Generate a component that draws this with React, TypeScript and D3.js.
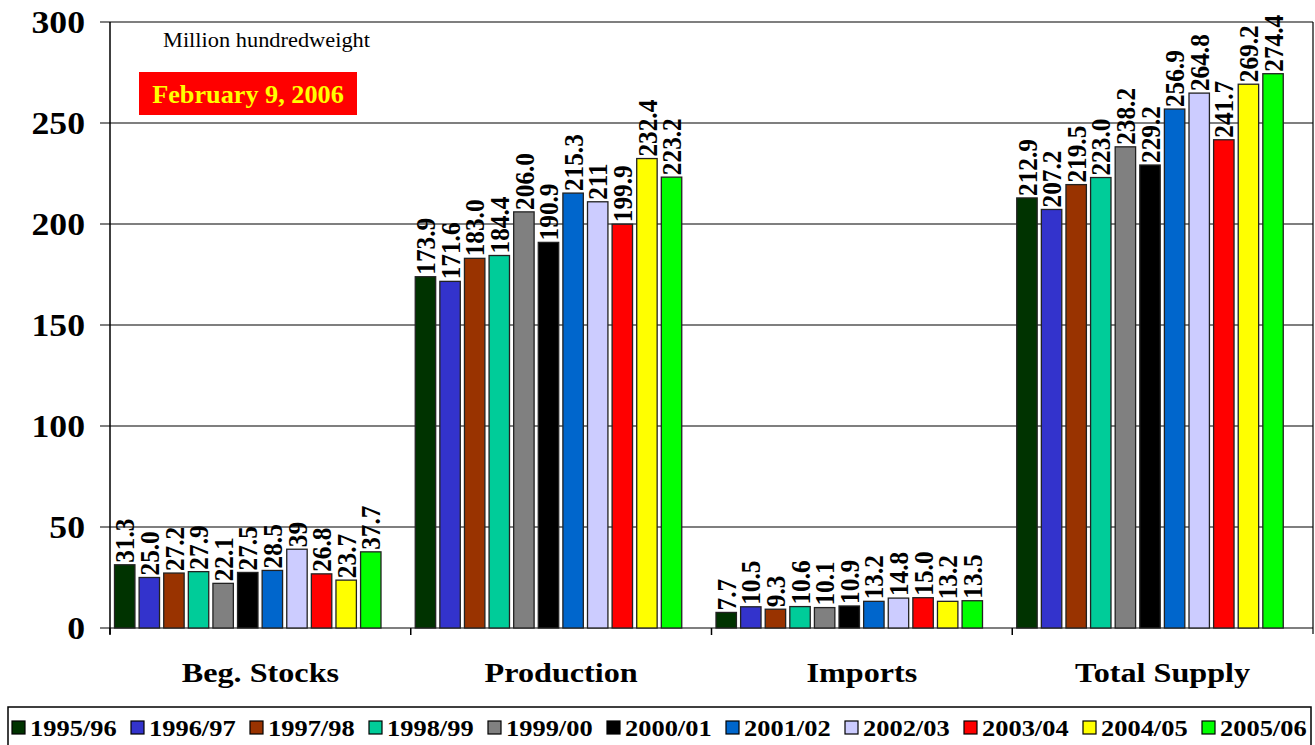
import React from 'react';
import * as d3 from 'd3';

// categories and series
const categories = ['Beg. Stocks', 'Production', 'Imports', 'Total Supply'];
const seasons = ['1995/96', '1996/97', '1997/98', '1998/99', '1999/00', '2000/01', '2001/02', '2002/03', '2003/04', '2004/05', '2005/06'];
const seasonColors = ['#003300', '#3333CC', '#993300', '#00CC99', '#808080', '#000000', '#0066CC', '#CCCCFF', '#FF0000', '#FFFF00', '#00FF00'];

// values kept as the printed labels (some have no decimal in the original)
const begStocks = ['31.3', '25.0', '27.2', '27.9', '22.1', '27.5', '28.5', '39', '26.8', '23.7', '37.7'];
const production = ['173.9', '171.6', '183.0', '184.4', '206.0', '190.9', '215.3', '211', '199.9', '232.4', '223.2'];
const imports = ['7.7', '10.5', '9.3', '10.6', '10.1', '10.9', '13.2', '14.8', '15.0', '13.2', '13.5'];
const totalSupply = ['212.9', '207.2', '219.5', '223.0', '238.2', '229.2', '256.9', '264.8', '241.7', '269.2', '274.4'];
const yTicks = [0, 50, 100, 150, 200, 250, 300];

const seriesByCategory = [begStocks, production, imports, totalSupply];

const W = 1315;
const H = 745;
const margin = { top: 22, right: 2, bottom: 117, left: 110 };
const font = '"Liberation Serif", "Times New Roman", serif';

// the original is a little wider than tall, text looks stretched sideways
const Txt: React.FC<{ x: number; y: number; sx?: number; sy?: number; rotate?: number; anchor?: string; size: number; bold?: boolean; fill?: string; children: React.ReactNode }> =
  ({ x, y, sx = 1.15, sy = 1, rotate = 0, anchor = 'start', size, bold = true, fill = '#000', children }) => (
    <text
      transform={`translate(${x},${y})${rotate ? ` rotate(${rotate})` : ''} scale(${sx},${sy})`}
      dy="0.35em"
      textAnchor={anchor}
      fontSize={size}
      fontWeight={bold ? 'bold' : 'normal'}
      fill={fill}
    >{children}</text>
  );

export default function App() {
  const innerW = W - margin.left - margin.right;
  const innerH = H - margin.top - margin.bottom;

  const x0 = d3.scaleBand<string>().domain(categories).range([0, innerW]).padding(0);
  const step = x0.step();
  // Excel-style: bars start just after the group tick, leave a gap on the right
  const x1 = d3.scaleBand<string>().domain(seasons).range([4.5, 271]).paddingInner(0.17).paddingOuter(0);
  const y = d3.scaleLinear().domain([0, 300]).range([innerH, 0]);
  const color = d3.scaleOrdinal<string, string>().domain(seasons).range(seasonColors);

  const legendX = d3.scaleBand<string>().domain(seasons).range([12, 12 + 11 * 119]);

  return (
    <svg width={W} height={H} style={{ position: 'absolute', left: 0, top: 0, background: '#fff' }} fontFamily={font}>
      <g transform={`translate(${margin.left},${margin.top})`}>
        {/* grid */}
        {yTicks.map(t => (
          <line key={t} x1={-10} x2={innerW} y1={y(t)} y2={y(t)} stroke="#000" strokeWidth={1.2} />
        ))}
        <line x1={0} x2={0} y1={0} y2={innerH + 6} stroke="#000" strokeWidth={1.5} />
        <line x1={innerW} x2={innerW} y1={0} y2={innerH + 6} stroke="#000" strokeWidth={1.2} />
        {categories.map(c => (
          <line key={c} x1={x0(c)!} x2={x0(c)!} y1={innerH} y2={innerH + 7} stroke="#000" strokeWidth={1.5} />
        ))}
        {yTicks.map(t => (
          <Txt key={t} x={-25} y={y(t)} anchor="end" size={31}>{t}</Txt>
        ))}

        {/* bars */}
        {categories.map((c, ci) => (
          <g key={c} transform={`translate(${x0(c)},0)`}>
            {seriesByCategory[ci].map((label, si) => {
              const v = parseFloat(label);
              const s = seasons[si];
              const bx = x1(s)!;
              const bw = x1.bandwidth();
              return (
                <g key={s}>
                  <rect x={bx} y={y(v)} width={bw} height={innerH - y(v)} fill={color(s)} stroke="#222" strokeWidth={1.3} />
                  <Txt x={bx + bw / 2} y={y(v) - 2} rotate={-90} sx={1.15} sy={1.25} size={22}>{label}</Txt>
                </g>
              );
            })}
            <Txt x={step / 2} y={innerH + 44} anchor="middle" size={28}>{c}</Txt>
          </g>
        ))}
      </g>

      {/* annotations */}
      <Txt x={163} y={40} size={20} bold={false} sx={1.12}>Million hundredweight</Txt>
      <rect x={139} y={72} width={218} height={43} fill="#FF0000" />
      <Txt x={248} y={94} anchor="middle" size={25} sx={1.05} fill="#FFFF00">February 9, 2006</Txt>

      {/* legend */}
      <rect x={8} y={707} width={1303} height={50} fill="#fff" stroke="#000" strokeWidth={1.5} />
      {seasons.map(s => (
        <g key={s} transform={`translate(${legendX(s)},728)`}>
          <rect x={0} y={-7} width={13} height={13} fill={color(s)} stroke="#000" strokeWidth={1.2} />
          <Txt x={18} y={0} size={23} sx={1.15}>{s}</Txt>
        </g>
      ))}
    </svg>
  );
}
